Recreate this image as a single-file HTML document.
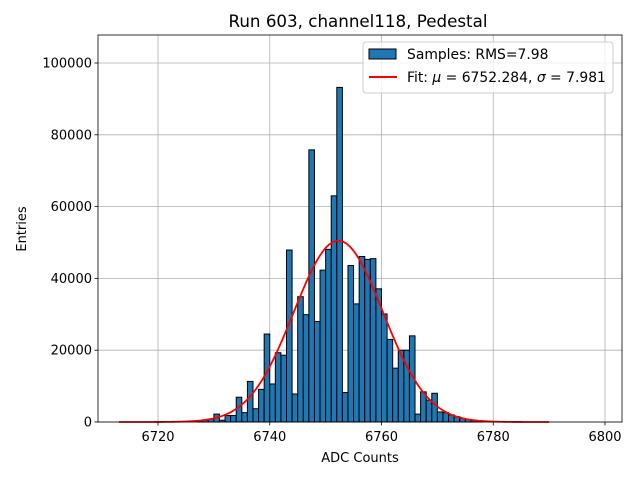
<!DOCTYPE html>
<html><head><meta charset="utf-8"><style>
body{margin:0;background:#fff;font-family:"Liberation Sans","DejaVu Sans",sans-serif;}
svg text{font-family:"DejaVu Sans","Liberation Sans",sans-serif;}
</style></head><body>
<svg id="chart" width="640" height="480" xmlns="http://www.w3.org/2000/svg">
<rect width="640" height="480" fill="#fff"/>
<g id="grid"></g><g id="bars"></g><g id="fit"></g><g id="axes"></g>
<text x="358" y="27" font-size="16.7" text-anchor="middle">Run 603, channel118, Pedestal</text>
<text x="360" y="462" font-size="13" text-anchor="middle">ADC Counts</text>
<text x="26" y="229" font-size="13" text-anchor="middle" transform="rotate(-90 26 229)">Entries</text>
<g>
<rect x="363" y="42" width="250" height="51" rx="3" fill="#fff" fill-opacity="0.8" stroke="#ccc"/>
<rect x="369" y="49" width="27" height="10" fill="#1f77b4" stroke="#000"/>
<text x="407" y="59" font-size="13.9">Samples: RMS=7.98</text>
<line x1="369" y1="77" x2="397" y2="77" stroke="red" stroke-width="2"/>
<text x="407" y="82" font-size="13.9">Fit: <tspan font-style="italic">μ</tspan> = 6752.284, <tspan font-style="italic">σ</tspan> = 7.981</text>
</g>
</svg>
<script>
const binStarts=[6727,6728,6729,6730,6731,6732,6733,6734,6735,6736,6737,6738,6739,6740,6741,6742,6743,6744,6745,6746,6747,6748,6749,6750,6751,6752,6753,6754,6755,6756,6757,6758,6759,6760,6761,6762,6763,6764,6765,6766,6767,6768,6769,6770,6771,6772,6773,6774,6775,6776,6777];
const counts=[300,500,800,2200,500,1800,1800,6900,2600,11300,3700,9100,24500,10600,19300,18600,47900,7800,34900,29900,75800,28000,42300,48100,63000,93200,8200,43600,32900,46100,45300,45500,37100,30100,23000,15000,20000,20000,24000,2200,8400,6100,8000,2800,2600,2000,1500,1000,700,400,200];
const xTicks=[6720,6740,6760,6780,6800];
const yTicks=[0,20000,40000,60000,80000,100000];
const fitMu=6752.284, fitSigma=7.981, fitAmp=50500, fitMin=6713, fitMax=6790;
const NS="http://www.w3.org/2000/svg";
const L=98,R=622,T=35,B=422;
const X=v=>158+(v-6720)*(447/80);
const Y=v=>422-v*(359/100000);
function mk(tag,attrs,parent){const e=document.createElementNS(NS,tag);for(const k in attrs)e.setAttribute(k,attrs[k]);parent.appendChild(e);return e;}
const grid=document.getElementById('grid'),bars=document.getElementById('bars'),fit=document.getElementById('fit'),axes=document.getElementById('axes');
xTicks.forEach(t=>{
 const g=mk('line',{x1:X(t),x2:X(t),y1:T,y2:B,stroke:'#b0b0b0','stroke-width':0.8},grid);
 
 
 mk('line',{x1:X(t),x2:X(t),y1:B,y2:B+3.5,stroke:'#000','stroke-width':0.8},axes);
 const tx=mk('text',{x:X(t),y:B+19,'font-size':13,'text-anchor':'middle'},axes);tx.textContent=t;
 
 
});
yTicks.forEach(t=>{
 const g=mk('line',{x1:L,x2:R,y1:Y(t),y2:Y(t),stroke:'#b0b0b0','stroke-width':0.8},grid);
 
 
 mk('line',{x1:L-3.5,x2:L,y1:Y(t),y2:Y(t),stroke:'#000','stroke-width':0.8},axes);
 const tx=mk('text',{x:L-6,y:Y(t)+4.5,'font-size':13,'text-anchor':'end'},axes);tx.textContent=t;
 
 
});
binStarts.forEach((b,i)=>{
 const r=mk('rect',{x:X(b),y:Y(counts[i]),width:X(b+1)-X(b),height:Y(0)-Y(counts[i]),fill:'#1f77b4',stroke:'#000','stroke-width':1},bars);
 
 
});
let d='';
for(let i=0;i<=300;i++){const v=fitMin+(fitMax-fitMin)*i/300;const y=fitAmp*Math.exp(-0.5*((v-fitMu)/fitSigma)**2);d+=(i?'L':'M')+X(v).toFixed(2)+' '+Y(y).toFixed(2);}
const p=mk('path',{d:d,fill:'none',stroke:'red','stroke-width':1.8},fit);


const f=mk('rect',{x:L,y:T,width:R-L,height:B-T,fill:'none',stroke:'#000','stroke-width':0.8},axes);


</script>
</body></html>
